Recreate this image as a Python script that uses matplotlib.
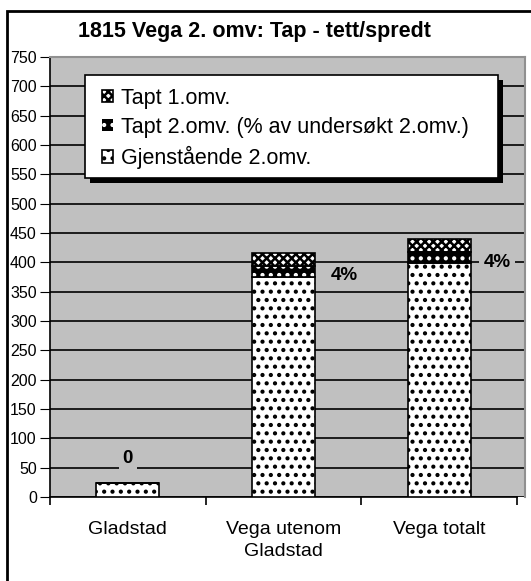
import numpy as np
import matplotlib.pyplot as plt
from matplotlib.patches import Rectangle

plt.rcParams['font.family'] = ['Liberation Sans', 'DejaVu Sans']
plt.rcParams['hatch.linewidth'] = 1.8

# data
categories = ['Gladstad', 'Vega utenom\nGladstad', 'Vega totalt']
gjenstaende = [24, 375, 399]      # Gjenstående 2.omv.
tapt2 = [0, 18, 18]               # Tapt 2.omv.
tapt1 = [0, 23, 23]               # Tapt 1.omv.
labels = ['0', '4%', '4%']
label_y = [66, 378, 400]
label_dx = [0, 0.39, 0.37]

fig = plt.figure(figsize=(5.31, 5.81), dpi=100)
W, H = 531, 581

# outer chart frame (runs off the right and bottom edge)
fig.patches.append(Rectangle((7 / W, -0.1), 1.2, 1.1 - 11 / H,
                             transform=fig.transFigure, fill=False,
                             edgecolor='black', linewidth=2))

ax = fig.add_axes([50 / W, 1 - 497 / H, 475 / W, 440 / H])
ax.set_facecolor('#C0C0C0')

x = np.arange(len(categories))
w = 0.405

b1 = ax.bar(x, gjenstaende, w, color='white', edgecolor='black',
            hatch='..', linewidth=1.2, zorder=3)
b2 = ax.bar(x, tapt2, w, bottom=gjenstaende, color='black',
            edgecolor='white', hatch='..', linewidth=0, zorder=3)
bot1 = np.array(gjenstaende) + np.array(tapt2)
b3 = ax.bar(x, tapt1, w, bottom=bot1, color='white', edgecolor='black',
            hatch='xxxx', linewidth=1.2, zorder=3)
# black outline around the middle segments
ax.bar(x, tapt2, w, bottom=gjenstaende, fill=False, edgecolor='black',
       linewidth=1.2, zorder=4)

for i, t in enumerate(labels):
    ax.text(x[i] + label_dx[i], label_y[i], t, ha='center', va='center',
            fontsize=13.5, fontweight='bold', zorder=5,
            bbox=dict(facecolor='#C0C0C0', edgecolor='none', pad=3))

ax.set_ylim(0, 750)
ax.set_yticks(np.arange(0, 751, 50))
ax.yaxis.grid(True, color='black', linewidth=1.2, zorder=1)
ax.set_axisbelow(True)
ax.tick_params(axis='y', direction='out', length=7, labelsize=11.5, pad=2.5)

ax.set_xlim(-0.5, 2.55)
ax.set_xticks(x)
ax.set_xticklabels(categories, fontsize=14, linespacing=1.45)
ax.set_xticks([-0.5, 0.5, 1.5, 2.5], minor=True)
ax.tick_params(axis='x', which='major', length=0, pad=17)
ax.tick_params(axis='x', which='minor', direction='out', length=6, width=1.2)

ax.spines['bottom'].set_bounds(-0.5, 2.5)
ax.spines['bottom'].set_linewidth(1.2)
ax.spines['left'].set_linewidth(1.2)
ax.spines['top'].set_color('#909090')
ax.spines['right'].set_color('#909090')
ax.spines['top'].set_linewidth(1.5)
ax.spines['right'].set_linewidth(1.5)

fig.text(254 / W, 1 - 31 / H, '1815 Vega 2. omv: Tap - tett/spredt',
         ha='center', va='center', fontsize=15.5, fontweight='bold')

# legend box with a solid drop shadow, drawn by hand
lx0, ly0, lx1, ly1 = 85, 75, 498, 178
ax.add_patch(Rectangle(((lx0 + 5) / W, 1 - (ly1 + 5) / H),
                       (lx1 - lx0) / W, (ly1 - ly0) / H,
                       transform=fig.transFigure, facecolor='black',
                       edgecolor='none', clip_on=False, zorder=6))
ax.add_patch(Rectangle((lx0 / W, 1 - ly1 / H), (lx1 - lx0) / W,
                       (ly1 - ly0) / H, transform=fig.transFigure,
                       facecolor='white', edgecolor='black', linewidth=1.2,
                       clip_on=False, zorder=6.5))

leg = ax.legend([b3, b2, b1],
                ['Tapt 1.omv.', 'Tapt 2.omv. (% av undersøkt 2.omv.)',
                 'Gjenstående 2.omv.'],
                loc='upper left', bbox_to_anchor=(91 / W, 1 - 77 / H),
                bbox_transform=fig.transFigure, fontsize=15.5,
                frameon=False, handlelength=0.5, handleheight=0.5,
                handletextpad=0.4, labelspacing=0.38, borderpad=0)
leg.set_zorder(7)

fig.savefig('out.png', dpi=100)
